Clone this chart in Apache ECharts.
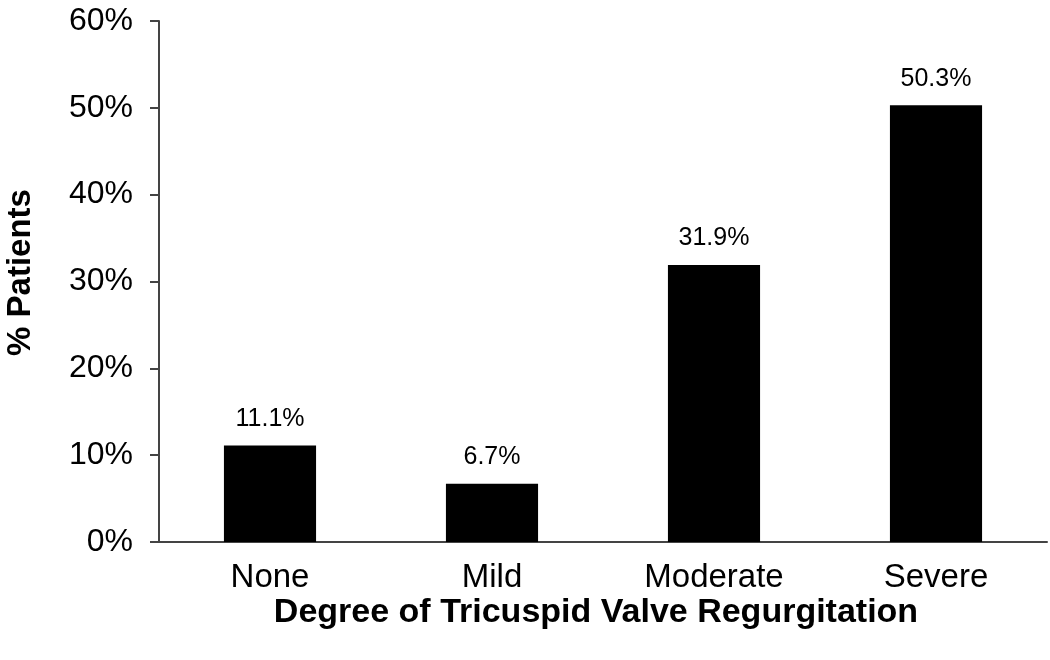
<!DOCTYPE html>
<html>
<head>
<meta charset="utf-8">
<script src="https://cdn.jsdelivr.net/npm/echarts@6/dist/echarts.min.js"></script>
<style>html,body{margin:0;padding:0;background:#fff}#c{width:1050px;height:660px}</style>
</head>
<body>
<div id="c"></div>
<script>
const categories = ['None', 'Mild', 'Moderate', 'Severe'];
const values = [11.1, 6.7, 31.9, 50.3];
const yTicks = [0, 10, 20, 30, 40, 50, 60];

const chart = echarts.init(document.getElementById('c'), null, {renderer: 'canvas'});
const font = 'Liberation Sans, Arial, Helvetica, sans-serif';
chart.setOption({
  animation: false,
  grid: {left: 159, right: 3, top: 21, bottom: 118, containLabel: false, outerBoundsMode: 'none'},
  xAxis: {
    type: 'category',
    data: categories,
    name: 'Degree of Tricuspid Valve Regurgitation',
    nameLocation: 'middle',
    nameGap: 54,
    nameMoveOverlap: false,
    nameTextStyle: {fontFamily: font, fontSize: 34, fontWeight: 'bold', color: '#000', padding: [0, 14, 0, 0]},
    axisLine: {lineStyle: {color: '#444', width: 2}},
    axisTick: {show: false},
    axisLabel: {fontFamily: font, fontSize: 33, color: '#000', margin: 19}
  },
  yAxis: {
    type: 'value',
    min: yTicks[0],
    max: yTicks[yTicks.length - 1],
    interval: 10,
    name: '% Patients',
    nameLocation: 'middle',
    nameGap: 122,
    nameMoveOverlap: false,
    nameTextStyle: {fontFamily: font, fontSize: 33, fontWeight: 'bold', color: '#000', padding: [0, 0, 0, 18]},
    axisLine: {show: true, lineStyle: {color: '#444', width: 2}},
    axisTick: {show: true, length: 9, lineStyle: {color: '#444', width: 2}},
    splitLine: {show: false},
    axisLabel: {fontFamily: font, fontSize: 32, color: '#000', margin: 26, formatter: v => v + '%'}
  },
  series: [{
    type: 'bar',
    data: values,
    barWidth: '41.5%',
    itemStyle: {color: '#000'},
    label: {
      show: true, position: 'top', distance: 14,
      fontFamily: font, fontSize: 25, color: '#000',
      formatter: p => p.value.toFixed(1) + '%'
    }
  }]
});
</script>
</body>
</html>
